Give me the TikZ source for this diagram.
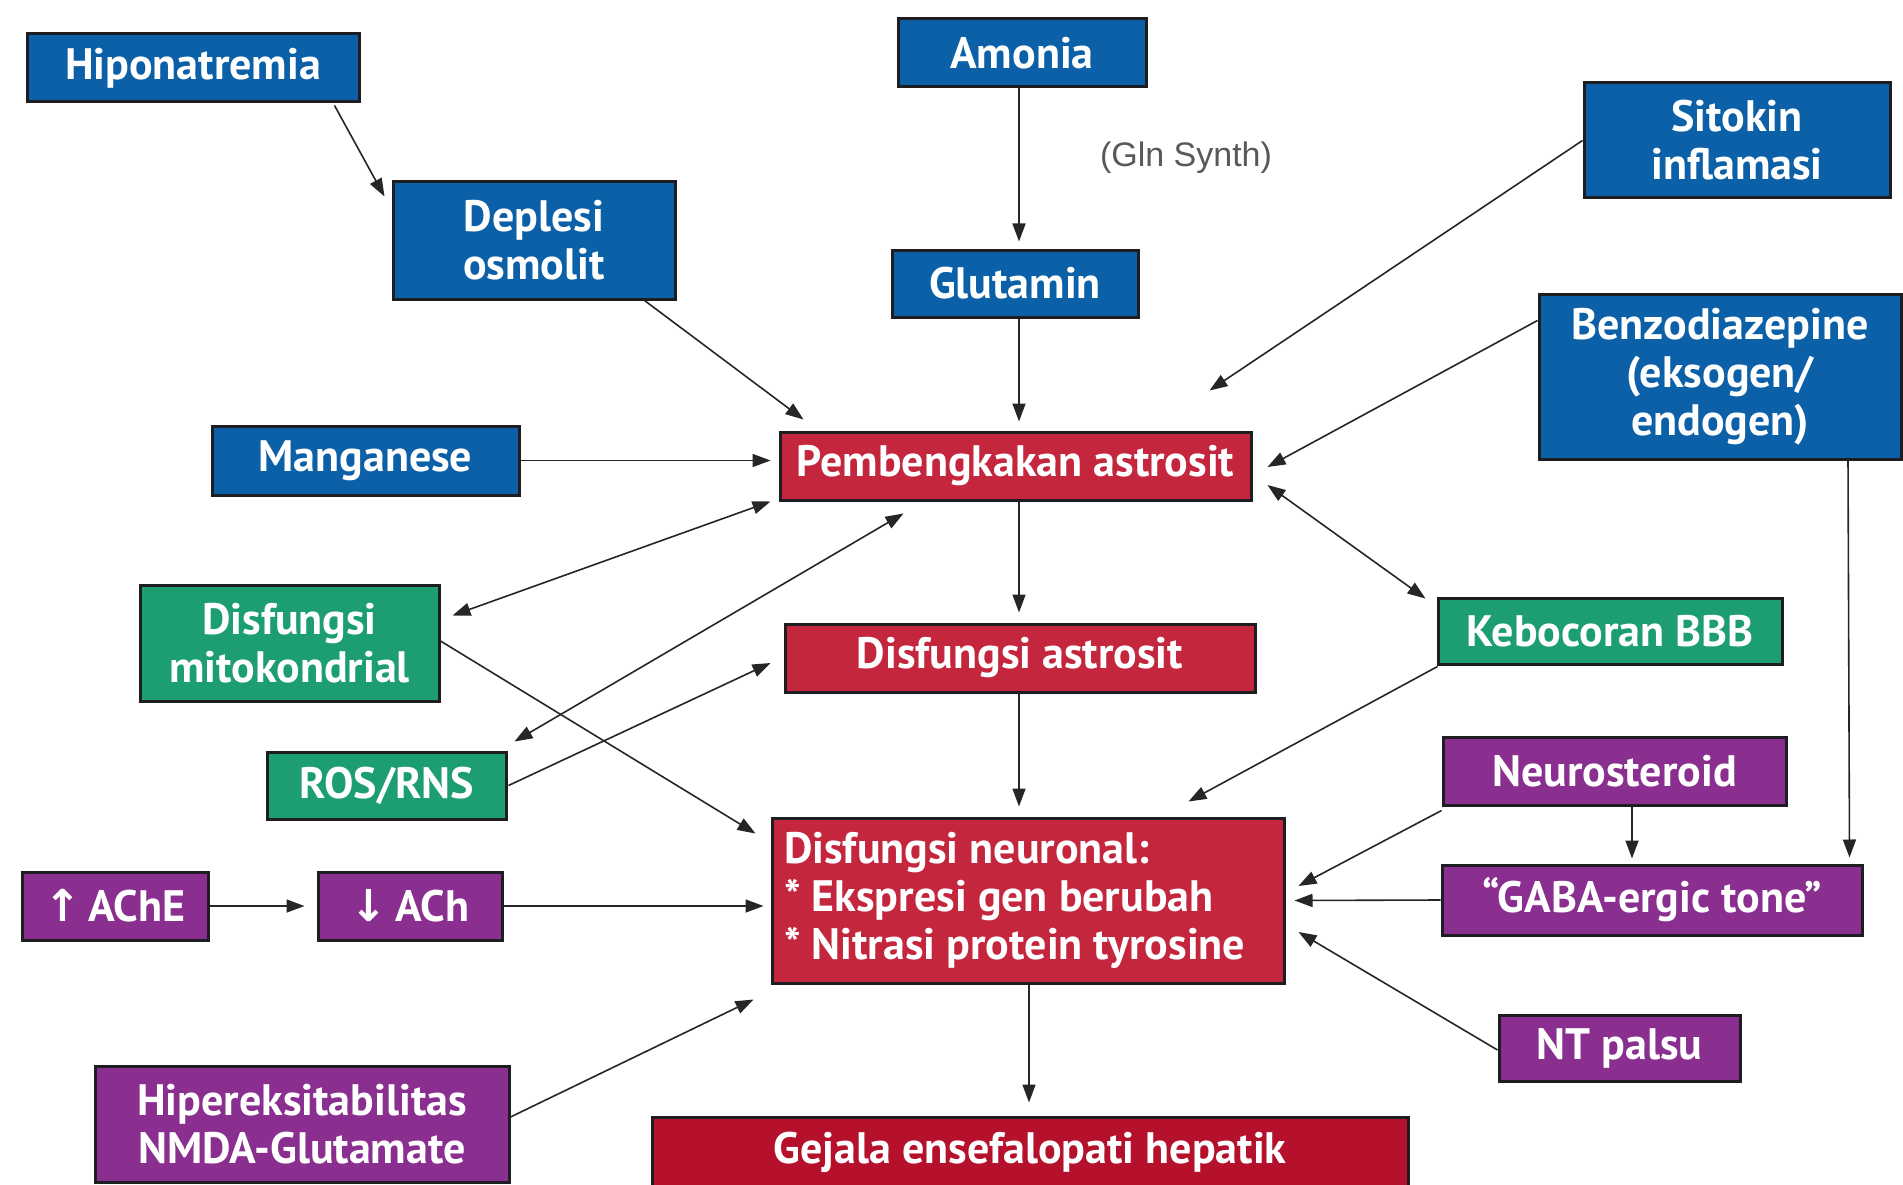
\documentclass[tikz,border=0pt]{standalone}
\usepackage{fontspec}
\setmainfont{PT Sans}
\newfontfamily\glnfont{Liberation Sans}
\newfontfamily\arrfont{DejaVu Sans}
\usetikzlibrary{arrows.meta,calc}
\definecolor{cblue}{HTML}{0B60A8}
\definecolor{cgreen}{HTML}{1C9E70}
\definecolor{cpurple}{HTML}{8A2F90}
\definecolor{cred}{HTML}{C4263E}
\definecolor{cdred}{HTML}{B5102C}
\definecolor{cborder}{HTML}{1E1E22}
\begin{document}
\begin{tikzpicture}[x=1pt,y=-1pt,
  box/.style={draw=cborder,line width=3pt,inner sep=0pt,text=white,
    font=\bfseries\fontsize{44}{48}\selectfont,align=center},
  bluebox/.style={box,fill=cblue},
  greenbox/.style={box,fill=cgreen},
  purplebox/.style={box,fill=cpurple},
  redbox/.style={box,fill=cred},
  arr/.style={draw=black!85,line width=1.6pt,-{Triangle[length=18pt,width=13pt]}},
  darr/.style={draw=black!85,line width=1.6pt,{Triangle[length=18pt,width=13pt]}-{Triangle[length=18pt,width=13pt]}}
]
\useasboundingbox (0,0) rectangle (1903,1185);
\fill[white] (0,0) rectangle (1903,1185);

% nodes
\node[bluebox,minimum width=332,minimum height=68] (hipo) at (193,68) {Hiponatremia};
\node[bluebox,minimum width=248,minimum height=68] (amonia) at (1022,53) {Amonia};
\node[bluebox,minimum width=306,minimum height=115] (sitokin) at (1737,140.5) {Sitokin\\inflamasi};
\node[bluebox,minimum width=282,minimum height=117] (deplesi) at (534,240.5) {Deplesi\\osmolit};
\node[bluebox,minimum width=246,minimum height=67] (glutamin) at (1015,283.5) {Glutamin};
\node[bluebox,minimum width=362,minimum height=165] (benzo) at (1720,376.5) {Benzodiazepine\\(eksogen/\\endogen)};
\node[bluebox,minimum width=307,minimum height=69] (mangan) at (365.5,460.5) {Manganese};
\node[redbox,minimum width=471,minimum height=68] (pemb) at (1015.5,466) {Pembengkakan astrosit};
\node[greenbox,minimum width=299,minimum height=116] (mito) at (289.5,643) {Disfungsi\\mitokondrial};
\node[greenbox,minimum width=344,minimum height=66] (bbb) at (1610,631) {Kebocoran BBB};
\node[redbox,minimum width=470,minimum height=68] (dastro) at (1020,658) {Disfungsi astrosit};
\node[greenbox,minimum width=239,minimum height=67] (ros) at (386.5,785.5) {ROS/RNS};
\node[purplebox,minimum width=343,minimum height=68] (neurost) at (1614.5,771) {Neurosteroid};
\node[redbox,minimum height=165,text width=488,inner xsep=12pt,align=flush left] (dneuro) at (1028,900.5)
  {Disfungsi neuronal:\\{}* Ekspresi gen berubah\\{}* Nitrasi protein tyrosine};
\node[purplebox,minimum width=186,minimum height=68] (ache) at (115,906) {{\arrfont\bfseries ↑}\,AChE};
\node[purplebox,minimum width=184,minimum height=68] (ach) at (410,906) {{\arrfont\bfseries ↓}\,ACh};
\node[purplebox,minimum width=420,minimum height=70] (gaba) at (1652,900) {“GABA-ergic tone”};
\node[purplebox,minimum width=241,minimum height=66] (ntpalsu) at (1619.5,1048) {NT palsu};
\node[purplebox,minimum width=414,minimum height=116] (hiper) at (302,1124) {Hipereksitabilitas\\NMDA-Glutamate};
\node[box,fill=cdred,minimum width=756,minimum height=70] (gejala) at (1030,1152) {Gejala ensefalopati hepatik};
\node[text=black!65,font=\glnfont\fontsize{34}{40}\selectfont,inner sep=0pt] (gln) at (1186,158) {(Gln Synth)};

% connectors
\draw[arr] ([shift={(-26,2)}]hipo.south east) -- ([shift={(-7,16)}]deplesi.north west);
\draw[arr] ([shift={(-3,0)}]amonia.south) -- ([shift={(4,-7)}]glutamin.north);
\draw[arr] ([shift={(4,0)}]glutamin.south) -- ([shift={(3.5,-9)}]pemb.north);
\draw[arr] ([shift={(-32,0)}]deplesi.south east) -- ([shift={(25,-11)}]pemb.north west);
\draw[arr] (sitokin.west) -- ([shift={(-43,-40)}]pemb.north east);
\draw[arr] ([shift={(0,28)}]benzo.north west) -- ([shift={(15,1)}]pemb.east);
\draw[arr] (mangan.east) -- ([shift={(-8,-5.5)}]pemb.west);
\draw[darr] ([shift={(-8,0)}]pemb.south west) -- ([shift={(12,32)}]mito.north east);
\draw[darr] ([shift={(125,12)}]pemb.south west) -- ([shift={(7,-9)}]ros.north east);
\draw[darr] ([shift={(15,19)}]pemb.east) -- ([shift={(-11,2)}]bbb.north west);
\draw[arr] ([shift={(3.5,0)}]pemb.south) -- ([shift={(-1,-10)}]dastro.north);
\draw[arr] ([shift={(-1,0)}]dastro.south) -- ([shift={(-9,-10)}]dneuro.north);
\draw[arr] ([shift={(1,0)}]ros.east) -- ([shift={(-13,5)}]dastro.west);
\draw[arr] ([shift={(0,-2)}]mito.east) -- ([shift={(-15,17)}]dneuro.north west);
\draw[arr] ([shift={(1,1)}]bbb.south west) -- ([shift={(-97,-15)}]dneuro.north east);
\draw[arr] (ache.east) -- ([shift={(-12,0)}]ach.west);
\draw[arr] (ach.east) -- ([shift={(-7,5.5)}]dneuro.west);
\draw[arr] ([shift={(0,4)}]neurost.south west) -- ([shift={(13,-14.5)}]dneuro.east);
\draw[arr] ([shift={(17.5,0)}]neurost.south) -- ([shift={(-20,-5)}]gaba.north);
\draw[arr] ([shift={(128,0)}]benzo.south) -- ([shift={(-14,-6)}]gaba.north east);
\draw[arr] (gaba.west) -- ([shift={(9,0)}]dneuro.east);
\draw[arr] ([shift={(0,2)}]ntpalsu.west) -- ([shift={(13,31.5)}]dneuro.east);
\draw[arr] ([shift={(0,-7)}]hiper.east) -- ([shift={(-17,15)}]dneuro.south west);
\draw[arr] ([shift={(1,0)}]dneuro.south) -- ([shift={(-1,-13)}]gejala.north);
\end{tikzpicture}
\end{document}
